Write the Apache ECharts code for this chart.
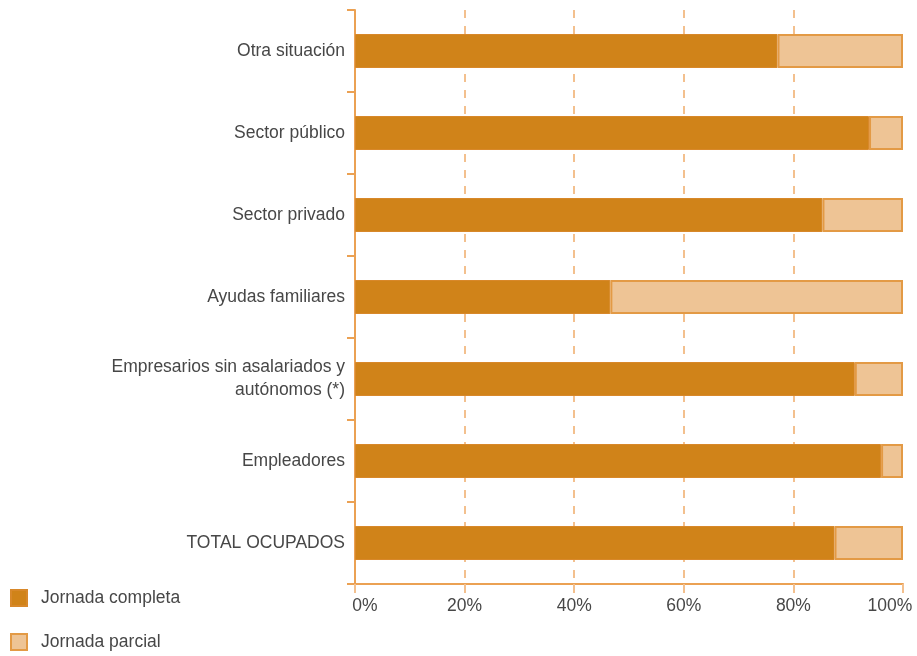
<!DOCTYPE html>
<html>
<head>
<meta charset="utf-8">
<script src="https://cdn.jsdelivr.net/npm/echarts@6/dist/echarts.min.js"></script>
<style>html,body{margin:0;padding:0;background:#fff}#c{width:917px;height:656px}</style>
</head>
<body>
<div id="c"></div>
<script>
const categories = ["Otra situación", "Sector público", "Sector privado", "Ayudas familiares", "Empresarios sin asalariados y\nautónomos (*)", "Empleadores", "TOTAL OCUPADOS"];
const completa = [77.1, 93.8, 85.3, 46.6, 91.2, 96.0, 87.5];
const parcial = [22.9, 6.2, 14.7, 53.4, 8.8, 4.0, 12.5];
const seriesNames = ["Jornada completa", "Jornada parcial"];
const xTicks = [0, 20, 40, 60, 80, 100];

const chart = echarts.init(document.getElementById('c'), null, {renderer: 'canvas'});
const font = "Helvetica, 'Liberation Sans', Arial, sans-serif";
const FS = 17.5;
const TXT = '#474747';
chart.setOption({
  animation: false,
  textStyle: {fontFamily: font},
  grid: {left: 355, right: 14, top: 10, bottom: 72, containLabel: false, outerBoundsMode: 'none'},
  legend: {
    orient: 'vertical', left: 10, top: 589, padding: 0, itemWidth: 16, itemHeight: 16, itemGap: 26,
    icon: 'rect',
    textStyle: {fontSize: FS, color: TXT, fontFamily: font, padding: [0, 0, 0, 9]},
    data: seriesNames
  },
  xAxis: {
    type: 'value', min: xTicks[0], max: xTicks[xTicks.length - 1], interval: 20,
    axisLine: {show: true, lineStyle: {color: '#eba153', width: 2}},
    axisTick: {show: true, length: 9, lineStyle: {color: '#f3c08e', width: 2}},
    axisLabel: {
      fontSize: FS, color: TXT, margin: 13, fontFamily: font,
      formatter: function (v) {
        if (v === xTicks[0]) return '{a|' + v + '%}';
        if (v === xTicks[xTicks.length - 1]) return '{b|' + v + '%}';
        return v + '%';
      },
      rich: {
        a: {fontSize: FS, color: TXT, fontFamily: font, padding: [0, 0, 0, 20]},
        b: {fontSize: FS, color: TXT, fontFamily: font, padding: [0, 26, 0, 0]}
      }
    },
    splitLine: {show: true, showMinLine: false, showMaxLine: false, lineStyle: {color: '#f3c08e', type: [8, 8], width: 2}}
  },
  yAxis: {
    type: 'category', inverse: true, data: categories,
    axisLine: {show: true, lineStyle: {color: '#eba153', width: 2}},
    axisTick: {show: true, length: 8, lineStyle: {color: '#eba153', width: 2}},
    axisLabel: {fontSize: FS, color: TXT, margin: 10, lineHeight: 23, align: 'right', fontFamily: font}
  },
  series: [
    {name: seriesNames[0], type: 'bar', stack: 's', barWidth: 34, data: completa,
     itemStyle: {color: '#d08319', borderColor: '#d8882a', borderWidth: 1}},
    {name: seriesNames[1], type: 'bar', stack: 's', barWidth: 34, data: parcial,
     itemStyle: {color: '#eec495', borderColor: '#e39a45', borderWidth: 2}}
  ]
});
</script>
</body>
</html>
